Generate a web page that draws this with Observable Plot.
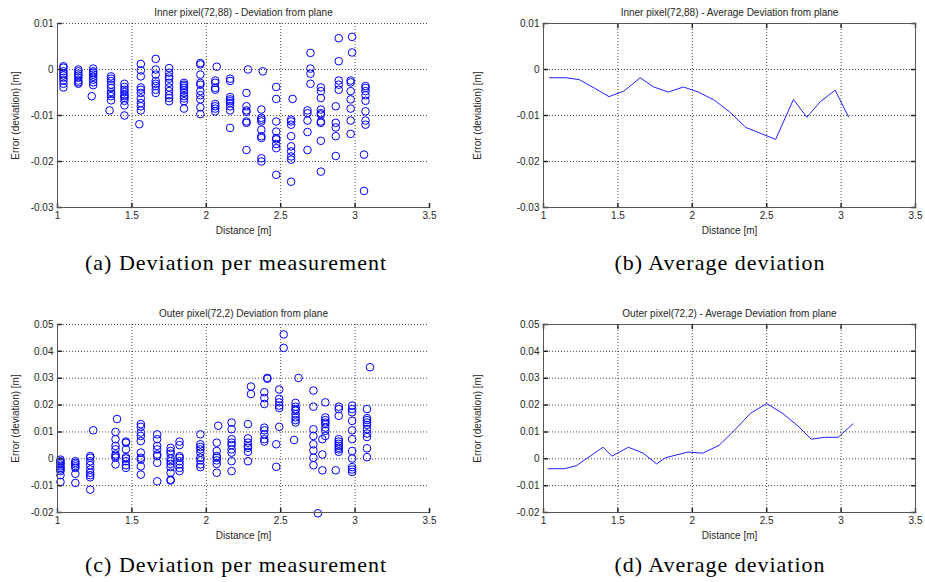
<!DOCTYPE html>
<html><head><meta charset="utf-8">
<script src="https://cdn.jsdelivr.net/npm/d3@7"></script>
<script src="https://cdn.jsdelivr.net/npm/@observablehq/plot@0.6"></script>
<style>
body{margin:0;background:#fff;}
#fig{position:relative;width:925px;height:582px;overflow:hidden;background:#fff;}
.panel{position:absolute;}
.cap{position:absolute;font-family:"Liberation Serif",serif;font-size:22px;letter-spacing:1px;line-height:22px;color:#000;white-space:nowrap;transform:translateX(-50%);}
</style></head><body><div id="fig"></div>
<script>
const xTicks = [1, 1.5, 2, 2.5, 3, 3.5];
const innerYTicks = [-0.03, -0.02, -0.01, 0, 0.01];
const outerYTicks = [-0.02, -0.01, 0, 0.01, 0.02, 0.03, 0.04, 0.05];

const titles = [
  "Inner pixel(72,88) - Deviation from plane",
  "Inner pixel(72,88) - Average Deviation from plane",
  "Outer pixel(72,2) Deviation from plane",
  "Outer pixel(72,2) - Average Deviation from plane"
];
const captions = ["(a) Deviation per measurement", "(b) Average deviation", "(c) Deviation per measurement", "(d) Average deviation"];
const xLabel = "Distance [m]";
const yLabel = "Error (deviation) [m]";

// Inner pixel: per-measurement deviations (columns of measurements per distance)
const innerScatterDist = [1.04,1.14,1.23,1.24,1.35,1.36,1.45,1.55,1.56,1.66,1.75,1.85,1.96,2.06,2.07,2.16,2.27,2.28,2.37,2.38,2.47,2.57,2.58,2.68,2.70,2.77,2.87,2.89,2.97,2.98,3.06,3.07];
const innerScatterDev = [
 [0.0007,0.0004,-0.0004,-0.0009,-0.0013,-0.0018,-0.0024,-0.0031,-0.0039],
 [0,-0.0004,-0.0009,-0.0013,-0.0018,-0.0024,-0.0028,-0.0031],
 [-0.0058],
 [0.0002,-0.0004,-0.0007,-0.0011,-0.0016,-0.0022,-0.0028,-0.0034],
 [-0.0089],
 [-0.0015,-0.002,-0.0025,-0.0033,-0.004,-0.0049,-0.0053,-0.0058,-0.0067],
 [-0.0031,-0.0038,-0.0044,-0.0049,-0.0055,-0.0058,-0.0062,-0.0068,-0.0078,-0.01],
 [-0.0119],
 [0.0012,-0.0002,-0.0015,-0.0039,-0.0044,-0.0051,-0.0063,-0.0073,-0.008,-0.0089],
 [0.0023,0,-0.0011,-0.0025,-0.0031,-0.0036,-0.0044,-0.0051],
 [0.0003,-0.0007,-0.0015,-0.002,-0.0029,-0.0039,-0.0047,-0.0056,-0.0062,-0.0069],
 [-0.0029,-0.0033,-0.0036,-0.004,-0.0045,-0.0051,-0.0058,-0.0063,-0.0069,-0.0085],
 [0.0014,0.0011,-0.0011,-0.0029,-0.0033,-0.0047,-0.0056,-0.0065,-0.0082,-0.0097],
 [-0.0024,-0.0029,-0.004,-0.0044,-0.0075,-0.008,-0.0085,-0.0091],
 [0.0006],
 [-0.002,-0.0025,-0.006,-0.0065,-0.0069,-0.0073,-0.008,-0.0089,-0.0127],
 [-0.0051,-0.008,-0.0089,-0.0092,-0.0113,-0.0116,-0.0175],
 [0],
 [-0.0087,-0.0105,-0.0109,-0.0113,-0.0131,-0.0145,-0.0149,-0.0193,-0.02],
 [-0.0004],
 [-0.0038,-0.0064,-0.0113,-0.0135,-0.0149,-0.0152,-0.0162,-0.0171,-0.0229],
 [-0.0109,-0.0113,-0.012,-0.0145,-0.0167,-0.0178,-0.0189,-0.0196,-0.0244],
 [-0.0064],
 [-0.0089,-0.0095,-0.0111,-0.0136,-0.0175],
 [0.0036,0.0002,-0.0009,-0.0031],
 [-0.0039,-0.0047,-0.0062,-0.0087,-0.0095,-0.0098,-0.0113,-0.0116,-0.0155,-0.0222],
 [-0.008,-0.0116,-0.0126,-0.0145,-0.0188],
 [0.0068,0.0018,-0.0024,-0.0033,-0.0044],
 [-0.0024,-0.0028,-0.0047,-0.0065,-0.0085,-0.0111,-0.014],
 [0.0071,0.0037],
 [-0.0185,-0.0264],
 [-0.0036,-0.004,-0.0047,-0.0056,-0.0068,-0.0091,-0.0111,-0.012]
];

// Inner pixel: average deviation
const innerAvgDist = [1.04,1.15,1.24,1.34,1.44,1.54,1.65,1.74,1.84,1.94,2.04,2.15,2.25,2.36,2.46,2.56,2.68,2.77,2.86,2.96,3.05];
const innerAvgDev = [-0.0018,-0.0018,-0.0022,-0.0040,-0.0059,-0.0047,-0.0018,-0.0038,-0.0049,-0.0038,-0.0049,-0.0067,-0.0092,-0.0126,-0.0139,-0.0152,-0.0065,-0.0104,-0.0070,-0.0045,-0.0103];

// Outer pixel: per-measurement deviations
const outerScatterDist = [1.02,1.12,1.22,1.24,1.39,1.40,1.46,1.56,1.67,1.76,1.82,1.96,2.07,2.08,2.17,2.28,2.30,2.39,2.41,2.47,2.49,2.52,2.59,2.60,2.62,2.72,2.75,2.78,2.80,2.87,2.89,2.98,3.08,3.10];
const outerScatterDev = [
 [-0.0003,-0.0009,-0.0015,-0.0021,-0.0028,-0.0034,-0.004,-0.0046,-0.0061,-0.0086],
 [-0.0009,-0.0015,-0.0021,-0.0028,-0.0034,-0.0056,-0.009],
 [0.001,0.0004,-0.0009,-0.0024,-0.004,-0.0052,-0.0061,-0.0069,-0.0115],
 [0.0106],
 [0.01,0.0073,0.0048,0.0035,0.0016,0.001,0.0004,-0.0021],
 [0.0148],
 [0.0064,0.006,0.0035,0.0006,0.0001,-0.0009,-0.0024,-0.0034],
 [0.0129,0.0119,0.0098,0.0085,0.0066,0.0023,0.0004,-0.0003,-0.0028,-0.0059],
 [0.0091,0.0073,0.0048,0.0035,0.0016,0.001,-0.0015,-0.0084],
 [0.0041,0.0029,0.0019,0.0001,-0.0009,-0.0019,-0.0031,-0.0052,-0.0078,-0.0081],
 [0.0064,0.0051,0.001,0.0004,-0.0009,-0.0021,-0.0034,-0.0046],
 [0.0091,0.0054,0.0044,0.0035,0.0023,0.0004,-0.0006,-0.0021,-0.0031],
 [0.006,0.0029,0.001,0.0004,-0.0006,-0.0019,-0.0052],
 [0.0123],
 [0.0135,0.011,0.0073,0.006,0.0051,0.0035,0.0023,-0.0009,-0.0046],
 [0.0129,0.0076,0.006,0.0048,0.0041,0.0026,-0.0009],
 [0.0269,0.0241],
 [0.0248,0.0226,0.0204,0.0116,0.0106,0.0091,0.0073,0.0064],
 [0.0301,0.0298],
 [0.0054,-0.003],
 [0.0258,0.0223,0.021,0.0198,0.0189,0.0119],
 [0.0463,0.0413],
 [0.007],
 [0.0208,0.0194,0.0185,0.0179,0.0166,0.0154,0.0144,0.0135],
 [0.0301],
 [0.0254,0.0194,0.011,0.0085,0.0054,0.0031,0.0004,-0.0024],
 [-0.0203],
 [0.0073,0.0016,-0.0043],
 [0.021,0.0154,0.0144,0.0135,0.0129,0.0116,0.0104,0.0085],
 [-0.0043],
 [0.0194,0.0185,0.016,0.0073,0.0064,0.0056,0.0048,0.0041,0.0035,0.0026],
 [0.0198,0.0185,0.0173,0.0141,0.0106,0.0073,0.0029,0.0001,-0.0031,-0.004,-0.0049],
 [0.0185,0.0151,0.0144,0.0135,0.0126,0.011,0.0094,0.0081,0.0039,0.0006],
 [0.0341]
];

// Outer pixel: average deviation
const outerAvgDist = [1.03,1.14,1.22,1.40,1.46,1.57,1.67,1.76,1.82,1.97,2.07,2.18,2.28,2.39,2.50,2.61,2.71,2.80,2.89,2.98,3.08];
const outerAvgDev = [-0.0037,-0.0037,-0.0026,0.0043,0.0010,0.0043,0.0021,-0.0019,0.0004,0.0025,0.0021,0.0050,0.0104,0.0169,0.0206,0.0168,0.0122,0.0073,0.0080,0.0080,0.0130];

const flat = (dists, devs) => dists.flatMap((d, i) => devs[i].map(v => ({d, v})));
const innerPts = flat(innerScatterDist, innerScatterDev);
const outerPts = flat(outerScatterDist, outerScatterDev);
const innerLine = innerAvgDist.map((d, i) => ({d, v: innerAvgDev[i]}));
const outerLine = outerAvgDist.map((d, i) => ({d, v: outerAvgDev[i]}));

const AX = "#262626";
const tickShape = {draw(ctx, l) { ctx.moveTo(0, 0); ctx.lineTo(0, -l); }};

function makePanel({left, top, width, height, mt, mb, ml, mr, yTicks, title, box, dataMarks}) {
  const yDom = [yTicks[0], yTicks[yTicks.length - 1]];
  const marks = [
    Plot.gridX(xTicks.slice(1).filter(t => t !== 3.5), {stroke: "#000", strokeOpacity: 0.7, strokeDasharray: "1,2"}),
    Plot.gridY(yTicks.slice(1), {stroke: "#000", strokeOpacity: 0.7, strokeDasharray: "1,2"}),
    ...dataMarks,
    Plot.vector(xTicks, {x: d => d, frameAnchor: "bottom", length: 4, rotate: 0, anchor: "start", shape: tickShape, stroke: AX}),
    Plot.vector(yTicks, {y: d => d, frameAnchor: "left", length: 4, rotate: 90, anchor: "start", shape: tickShape, stroke: AX}),
    Plot.axisX(xTicks, {tickSize: 0, tickPadding: 4, tickFormat: d => String(d), label: xLabel, labelAnchor: "center", labelArrow: "none", labelOffset: 26, color: AX}),
    Plot.axisY(yTicks, {tickSize: 0, tickPadding: 4, tickFormat: d => String(d), label: yLabel, labelAnchor: "center", labelArrow: "none", labelOffset: ml - 11, color: AX}),
    Plot.text([title], {frameAnchor: "top", dy: -15, fill: AX, fontSize: 10})
  ];
  if (box) {
    marks.push(
      Plot.vector(xTicks, {x: d => d, frameAnchor: "top", length: 4, rotate: 180, anchor: "start", shape: tickShape, stroke: AX}),
      Plot.vector(yTicks, {y: d => d, frameAnchor: "right", length: 4, rotate: 270, anchor: "start", shape: tickShape, stroke: AX}),
      Plot.frame({stroke: "#555"})
    );
  } else {
    marks.push(Plot.ruleX([xTicks[0]], {stroke: "#555"}), Plot.ruleY([yDom[0]], {stroke: "#555"}));
  }
  const chart = Plot.plot({
    width, height, marginTop: mt, marginBottom: mb, marginLeft: ml, marginRight: mr,
    style: {fontFamily: "'Liberation Sans', Arial, sans-serif", fontSize: "10px", color: AX, background: "white", overflow: "visible"},
    x: {type: "linear", domain: [xTicks[0], xTicks[xTicks.length - 1]]},
    y: {type: "linear", domain: yDom},
    marks
  });
  const wrap = document.createElement("div");
  wrap.className = "panel";
  wrap.style.left = left + "px";
  wrap.style.top = top + "px";
  wrap.appendChild(chart);
  document.getElementById("fig").appendChild(wrap);
}

const dot = pts => Plot.dot(pts, {x: "d", y: "v", r: 3.8, stroke: "#0000ff", strokeWidth: 1, fill: "none"});
const line = pts => Plot.line(pts, {x: "d", y: "v", stroke: "#2020ff", strokeWidth: 1});

makePanel({left: 0, top: 0, width: 462, height: 245, mt: 23, mb: 38, ml: 57, mr: 33, yTicks: innerYTicks, title: titles[0], box: false, dataMarks: [dot(innerPts)]});
makePanel({left: 462, top: 0, width: 463, height: 245, mt: 23, mb: 38, ml: 81, mr: 10, yTicks: innerYTicks, title: titles[1], box: true, dataMarks: [line(innerLine)]});
makePanel({left: 0, top: 300, width: 462, height: 250, mt: 24, mb: 38, ml: 57, mr: 33, yTicks: outerYTicks, title: titles[2], box: false, dataMarks: [dot(outerPts)]});
makePanel({left: 462, top: 300, width: 463, height: 250, mt: 24, mb: 38, ml: 81, mr: 10, yTicks: outerYTicks, title: titles[3], box: true, dataMarks: [line(outerLine)]});

const capPos = [[236, 252], [720, 252], [236, 554], [720, 554]];
captions.forEach((c, i) => {
  const el = document.createElement("div");
  el.className = "cap";
  el.textContent = c;
  el.style.left = capPos[i][0] + "px";
  el.style.top = capPos[i][1] + "px";
  document.getElementById("fig").appendChild(el);
});
</script>
</body></html>
